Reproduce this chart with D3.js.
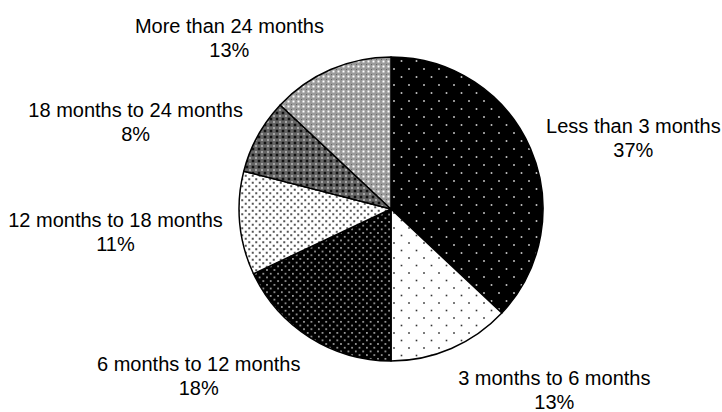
<!DOCTYPE html>
<html>
<head>
<meta charset="utf-8">
<script src="https://cdn.jsdelivr.net/npm/d3@7"></script>
<style>
  body { margin: 0; background: #fff; }
  svg { display: block; }
  text { font-family: "Liberation Sans", Arial, sans-serif; font-size: 20px; fill: #000; }
</style>
</head>
<body>
<div class="container"></div>
<script>
const categories = ['Less than 3 months', '3 months to 6 months', '6 months to 12 months',
    '12 months to 18 months', '18 months to 24 months', 'More than 24 months'];
const values = [37, 13, 18, 11, 8, 13];
const percentLabels = ['37%', '13%', '18%', '11%', '8%', '13%'];

const width = 722;
const height = 412;
const cx = 391;
const cy = 209;
const radius = 152;

const svg = d3.select('.container')
    .append('svg')
    .attr('width', width)
    .attr('height', height);

const defs = svg.append('defs');

// dotted fills, one per slice
function dotPattern(id, w, h, bg, dot, size, dots) {
    const p = defs.append('pattern')
        .attr('id', id)
        .attr('patternUnits', 'userSpaceOnUse')
        .attr('width', w)
        .attr('height', h);
    p.append('rect').attr('width', w).attr('height', h).attr('fill', bg);
    dots.forEach(d => {
        p.append('rect')
            .attr('x', d[0] - size / 2)
            .attr('y', d[1] - size / 2)
            .attr('width', size)
            .attr('height', size)
            .attr('fill', dot);
    });
    return p;
}

dotPattern('p0', 15, 16, '#000', '#e0e0e0', 1.6, [[3, 4], [10.5, 12]]);
dotPattern('p1', 15, 15, '#fff', '#333', 1.6, [[3, 4], [10.5, 11.5]]);
dotPattern('p2', 7.4, 7.4, '#000', '#bbb', 1.6, [[1.8, 1.8], [5.5, 5.5]]);
dotPattern('p3', 7, 7, '#fff', '#555', 2, [[1.75, 1.75], [5.25, 5.25]]);

const p4 = dotPattern('p4', 6, 6, '#666', '#111', 2.6, [[0, 0], [6, 0], [0, 6], [6, 6]]);
p4.append('rect').attr('x', 2.2).attr('y', 2.2).attr('width', 1.6).attr('height', 1.6).attr('fill', '#c8c8c8');

const p5 = dotPattern('p5', 5, 5, '#9a9a9a', '#fff', 2, [[2.5, 2.5]]);
p5.append('rect').attr('x', 0).attr('y', 0).attr('width', 1).attr('height', 1).attr('fill', '#666');

const pie = d3.pie().sort(null).value(d => d)(values);

const arc = d3.arc()
    .innerRadius(0)
    .outerRadius(radius);

const mainGroup = svg.append('g')
    .attr('transform', `translate(${cx}, ${cy})`);

mainGroup.selectAll('path.slice')
    .data(pie)
    .enter()
    .append('path')
    .attr('class', 'slice')
    .attr('d', arc)
    .attr('fill', (d, i) => `url(#p${i})`)
    .attr('stroke', '#000')
    .attr('stroke-width', 1.5)
    .attr('stroke-linejoin', 'round');

// labels placed outside each slice, pushed away along the mid angle
const labelPad = 17;
const lineHeight = 24;
const labelShiftY = 5;

pie.forEach((d, i) => {
    const mid = (d.startAngle + d.endAngle) / 2;
    const s = Math.sin(mid);
    const c = Math.cos(mid);

    const g = mainGroup.append('g');
    const t = g.append('text').attr('text-anchor', 'middle');
    t.append('tspan').attr('x', 0).attr('y', 0).text(categories[i]);
    t.append('tspan').attr('x', 0).attr('y', lineHeight).text(percentLabels[i]);

    const box = t.node().getBBox();
    const w = box.width;
    const h = box.height;

    const ax = s * (radius + labelPad) + Math.sign(s) * w / 2;
    const ay = -c * (radius + labelPad) - c * h / 2 + labelShiftY;
    // center block on (ax, ay)
    const offY = ay - (box.y + h / 2);
    g.attr('transform', `translate(${ax}, ${offY})`);
});
</script>
</body>
</html>
